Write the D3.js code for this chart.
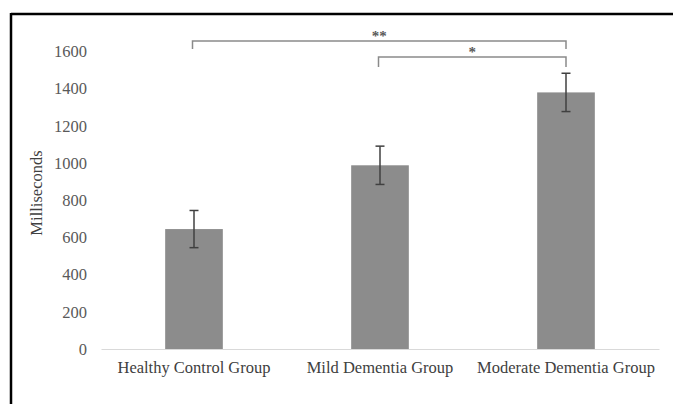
<!DOCTYPE html>
<html>
<head>
<meta charset="utf-8">
<script src="https://cdn.jsdelivr.net/npm/d3@7"></script>
<style>
  html, body { margin: 0; padding: 0; background: #fff; }
  svg { display: block; }
</style>
</head>
<body>
<svg id="chart" width="673" height="404"></svg>
<script>
const categories = ["Healthy Control Group", "Mild Dementia Group", "Moderate Dementia Group"];
const means = [645, 988, 1380];
const errors = [100, 103, 103];
const yTicks = [0, 200, 400, 600, 800, 1000, 1200, 1400, 1600];
const yLabel = "Milliseconds";
const brackets = [
  { from: 0, to: 2, label: "**" },
  { from: 1, to: 2, label: "*" }
];

const svg = d3.select("#chart");
const W = 673, H = 404;
const font = "'Liberation Serif', 'Times New Roman', serif";

// frame lines (top & left)
svg.append("line").attr("x1", 11).attr("x2", W).attr("y1", 14).attr("y2", 14)
  .attr("stroke", "#000").attr("stroke-width", 2.5);
svg.append("line").attr("x1", 11).attr("x2", 11).attr("y1", 13).attr("y2", H)
  .attr("stroke", "#000").attr("stroke-width", 2.5);

const x = d3.scaleBand().domain(categories).range([101, 659]).paddingInner(0.69).paddingOuter(0.345);
const y = d3.scaleLinear().domain([0, 1600]).range([349, 51.5]);

// y axis (labels only)
const yAxis = d3.axisLeft(y).tickValues(yTicks).tickSize(0).tickPadding(0).tickFormat(d3.format("d"));
const gy = svg.append("g").attr("transform", "translate(87,0)").call(yAxis);
gy.select(".domain").remove();
gy.selectAll("text").attr("font-family", font).attr("font-size", 16.5).attr("fill", "#595959");

// x axis
const xAxis = d3.axisBottom(x).tickSize(0).tickPadding(12);
const gx = svg.append("g").attr("transform", `translate(0,${y(0)})`).call(xAxis);
gx.select(".domain").attr("stroke", "#d9d9d9").attr("stroke-width", 1.2);
gx.selectAll("text").attr("font-family", font).attr("font-size", 16.5).attr("fill", "#404040");

// y label
svg.append("text")
  .attr("transform", `translate(42,193) rotate(-90)`)
  .attr("text-anchor", "middle")
  .attr("font-family", font).attr("font-size", 16.5).attr("fill", "#404040")
  .text(yLabel);

// bars
svg.append("g").selectAll("rect").data(categories).join("rect")
  .attr("x", d => x(d))
  .attr("width", x.bandwidth())
  .attr("y", (d, i) => y(means[i]))
  .attr("height", (d, i) => y(0) - y(means[i]))
  .attr("fill", "#8c8c8c");

// error bars
const eb = svg.append("g").attr("stroke", "#404040").attr("stroke-width", 1.5);
categories.forEach((c, i) => {
  const cx = x(c) + x.bandwidth() / 2;
  const top = y(means[i] + errors[i]), bot = y(means[i] - errors[i]);
  eb.append("line").attr("x1", cx).attr("x2", cx).attr("y1", top).attr("y2", bot);
  eb.append("line").attr("x1", cx - 4.5).attr("x2", cx + 4.5).attr("y1", top).attr("y2", top);
  eb.append("line").attr("x1", cx - 4.5).attr("x2", cx + 4.5).attr("y1", bot).attr("y2", bot);
});

// significance brackets
const bracketY = [41, 57];
const bracketDrop = [8, 10];
brackets.forEach((b, k) => {
  const x1 = x(categories[b.from]) + x.bandwidth() / 2 - 1.5;
  const x2 = x(categories[b.to]) + x.bandwidth() / 2;
  const yy = bracketY[k];
  svg.append("path")
    .attr("d", `M${x1},${yy + bracketDrop[k]}V${yy}H${x2}V${yy + bracketDrop[k]}`)
    .attr("fill", "none").attr("stroke", "#8a8a8a").attr("stroke-width", 1.5);
  svg.append("text")
    .attr("x", (x1 + x2) / 2).attr("y", yy)
    .attr("text-anchor", "middle")
    .attr("font-family", font).attr("font-size", 15).attr("font-weight", "bold").attr("fill", "#595959")
    .text(b.label);
});
</script>
</body>
</html>
